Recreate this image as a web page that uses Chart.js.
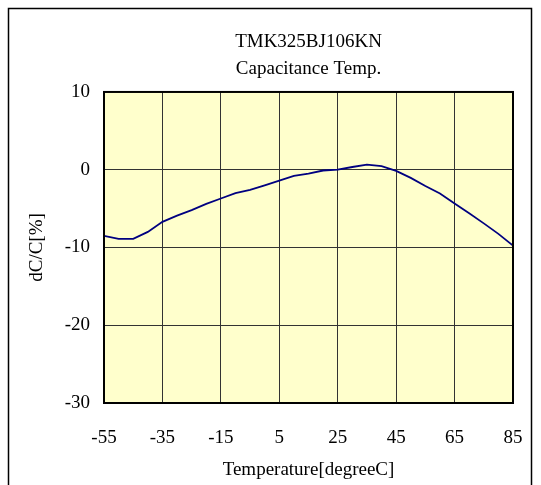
<!DOCTYPE html>
<html>
<head>
<meta charset="utf-8">
<script src="https://cdn.jsdelivr.net/npm/chart.js@4/dist/chart.umd.min.js"></script>
<style>
  body { margin: 0; background: #fff; }
  #wrap { width: 541px; height: 485px; }
</style>
</head>
<body>
<div id="wrap"><canvas id="cap-chart" width="541" height="485"></canvas></div>
<script>
const temps = [-55, -50, -45, -40, -35, -30, -25, -20, -15, -10, -5, 0, 5, 10, 15, 20, 25, 30, 35, 40, 45, 50, 55, 60, 65, 70, 75, 80, 85];
const dcc = [-8.5, -8.9, -8.9, -8.0, -6.7, -5.9, -5.2, -4.4, -3.7, -3.0, -2.6, -2.0, -1.4, -0.8, -0.5, -0.1, 0, 0.35, 0.65, 0.45, -0.15, -1.05, -2.1, -3.05, -4.35, -5.6, -6.9, -8.25, -9.75];
const xTicks = [-55, -35, -15, 5, 25, 45, 65, 85];
const yTicks = [-30, -20, -10, 0, 10];
const titleLines = ['TMK325BJ106KN', 'Capacitance Temp.'];

const serif = 'Liberation Serif';

// yellow plot background + outer frame
const frame = {
  id: 'frame',
  beforeDraw(chart) {
    const {ctx, chartArea: a} = chart;
    ctx.save();
    ctx.fillStyle = '#FFFFCC';
    ctx.fillRect(a.left, a.top, a.right - a.left, a.bottom - a.top);
    ctx.restore();
  },
  afterDraw(chart) {
    const {ctx, chartArea: a} = chart;
    ctx.save();
    ctx.strokeStyle = '#000';
    ctx.lineWidth = 1.5;
    ctx.strokeRect(8.5, 8.5, 523, 500);
    ctx.lineWidth = 2;
    ctx.strokeRect(a.left, a.top, a.right - a.left, a.bottom - a.top);
    ctx.restore();
  }
};

new Chart(document.getElementById('cap-chart'), {
  type: 'line',
  data: {
    datasets: [{
      data: temps.map((t, i) => ({x: t, y: dcc[i]})),
      borderColor: '#000080',
      borderWidth: 1.8,
      pointRadius: 0,
      tension: 0,
      fill: false
    }]
  },
  options: {
    responsive: false,
    animation: false,
    layout: { padding: { top: 29, right: 28, left: 0, bottom: 0 } },
    plugins: {
      legend: { display: false },
      tooltip: { enabled: false },
      title: {
        display: true,
        text: titleLines,
        fullSize: false,
        color: '#000',
        font: { family: serif, size: 19, weight: 'normal', lineHeight: 1.42 },
        padding: { top: 0, bottom: 9 }
      }
    },
    scales: {
      x: {
        type: 'linear',
        min: -55,
        max: 85,
        afterBuildTicks: s => { s.ticks = xTicks.map(v => ({value: v})); },
        afterFit: s => { s.height = 82; s.paddingLeft = 0; s.paddingRight = 0; },
        grid: { color: '#333', lineWidth: 1, drawTicks: false },
        border: { display: false },
        ticks: { color: '#000', font: { family: serif, size: 19 }, padding: 24, maxRotation: 0 },
        title: { display: true, text: 'Temperature[degreeC]', color: '#000', font: { family: serif, size: 19 }, padding: { top: 1 } }
      },
      y: {
        min: -30,
        max: 10,
        afterBuildTicks: s => { s.ticks = yTicks.map(v => ({value: v})); },
        afterFit: s => { s.width = 104; },
        grid: { color: '#333', lineWidth: 1, drawTicks: false },
        border: { display: false },
        ticks: { color: '#000', font: { family: serif, size: 19 }, padding: 14 },
        title: { display: true, text: 'dC/C[%]', color: '#000', font: { family: serif, size: 19 }, padding: { top: 26 } }
      }
    }
  },
  plugins: [frame]
});
</script>
</body>
</html>
